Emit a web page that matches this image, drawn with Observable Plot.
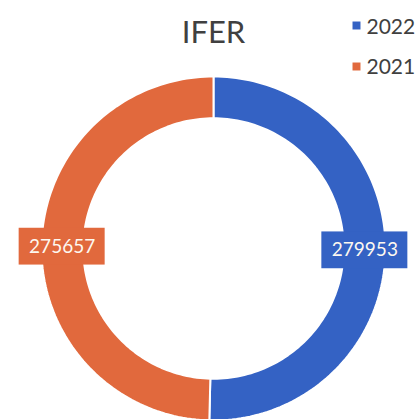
<!DOCTYPE html>
<html>
<head>
<meta charset="utf-8">
<script src="https://cdn.jsdelivr.net/npm/d3@7"></script>
<script src="https://cdn.jsdelivr.net/npm/@observablehq/plot@0.6"></script>
<style>
  html, body { margin: 0; padding: 0; background: #fff; overflow: hidden; }
</style>
</head>
<body>
<div id="chart"></div>
<script>
const title = "IFER";
const categories = ["2022", "2021"];
const values = [279953, 275657];
const colors = ["#3462c4", "#e1693d"];

const innerRatio = 0.757;
const pie = d3.pie().sort(null)(values);

const ringPoints = [];
const labels = [];
pie.forEach((p, i) => {
  const n = 120;
  const angs = d3.range(n + 1).map(k => p.startAngle + (p.endAngle - p.startAngle) * k / n);
  angs.forEach(a => ringPoints.push({slice: categories[i], x: Math.sin(a), y: Math.cos(a)}));
  angs.slice().reverse().forEach(a => ringPoints.push({slice: categories[i], x: innerRatio * Math.sin(a), y: innerRatio * Math.cos(a)}));
  const mid = (p.startAngle + p.endAngle) / 2;
  const rm = 0.88;
  labels.push({slice: categories[i], value: values[i], x: rm * Math.sin(mid), y: rm * Math.cos(mid)});
});

const hw = 0.25, hh = 0.107;

const chart = Plot.plot({
  width: 419,
  height: 419,
  margin: 0,
  style: {fontFamily: "Lato, 'Open Sans', sans-serif", background: "#fff"},
  x: {domain: [-1, 1], range: [41, 385], axis: null},
  y: {domain: [-1, 1], range: [420, 76], axis: null},
  color: {domain: categories, range: colors},
  marks: [
    Plot.line(ringPoints, {x: "x", y: "y", z: "slice", fill: "slice", stroke: "white", strokeWidth: 2, curve: "linear-closed"}),
    Plot.rect(labels, {x1: d => d.x - hw, x2: d => d.x + hw, y1: d => d.y - hh, y2: d => d.y + hh, fill: "slice"}),
    Plot.text(labels, {x: "x", y: "y", text: d => String(d.value), fill: "#fdf8f0", fontSize: 19}),
    Plot.text([title], {frameAnchor: "top-left", dx: 213, dy: 42, text: d => d, textAnchor: "middle", lineAnchor: "bottom", fontSize: 31, fill: "#404040"}),
    ...categories.map((c, i) => Plot.dot([c], {frameAnchor: "top-left", dx: 356, dy: 25 + 41 * i, symbol: "square", r: 4.5, fill: d => d})),
    ...categories.map((c, i) => Plot.text([c], {frameAnchor: "top-left", dx: 366, dy: 33 + 40 * i, text: d => d, textAnchor: "start", lineAnchor: "bottom", fontSize: 21, fill: "#404040"}))
  ]
});
document.getElementById("chart").appendChild(chart);
</script>
</body>
</html>
